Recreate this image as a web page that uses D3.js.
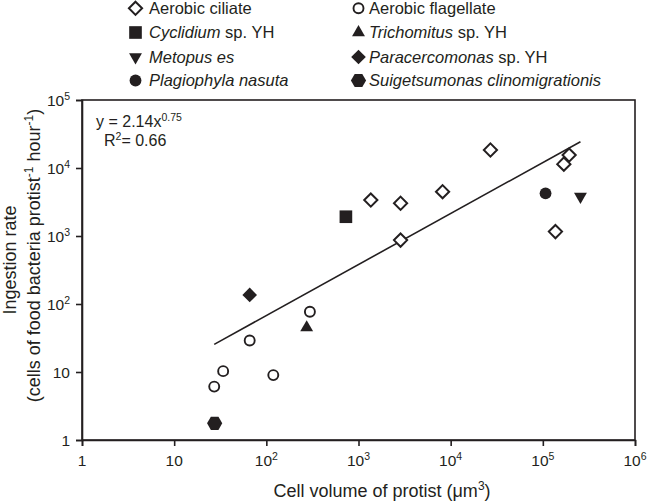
<!DOCTYPE html>
<html>
<head>
<meta charset="utf-8">
<script src="https://cdn.jsdelivr.net/npm/d3@7"></script>
<style>
  html, body { margin: 0; padding: 0; background: #fff; }
  svg { display: block; }
  text { font-family: "Liberation Sans", Arial, Helvetica, sans-serif; fill: #231f20; }
</style>
</head>
<body>
<svg id="chart" width="647" height="504"></svg>
<script>
// ---- data ----
const ciliateX = [1360, 2860, 8170, 27000, 193000, 169000, 2860, 137000];
const ciliateY = [3380, 3030, 4480, 18400, 15500, 11400, 870, 1160];
const flagellateX = [297, 66, 34, 27.2, 119];
const flagellateY = [77, 29, 10.3, 6.1, 9.0];
const cyclidiumX = [730];
const cyclidiumY = [1920];
const trichomitusX = [274];
const trichomitusY = [45];
const metopusX = [256000];
const metopusY = [3810];
const paracercomonasX = [66];
const paracercomonasY = [136];
const plagiophylaX = [107000];
const plagiophylaY = [4245];
const suigetsumonasX = [27.5];
const suigetsumonasY = [1.76];
// power-law fit shown on the chart: y = 2.14 x^0.75, drawn over the data's x-range
const fitA = 2.14, fitB = 0.75;
const fitXRange = [27.2, 256000];
const xTickValues = [1, 10, 100, 1e3, 1e4, 1e5, 1e6];
const xTickLabels = [["1", ""], ["10", ""], ["10", "2"], ["10", "3"], ["10", "4"], ["10", "5"], ["10", "6"]];
const yTickValues = [1, 10, 100, 1e3, 1e4, 1e5];
const yTickLabels = [["1", ""], ["10", ""], ["10", "2"], ["10", "3"], ["10", "4"], ["10", "5"]];

const svg = d3.select("#chart");
const ink = "#231f20";

const x = d3.scaleLog().domain([1, 1e6]).range([82, 635]);
const y = d3.scaleLog().domain([1, 1e5]).range([440, 100]);

// ---- marker shapes ----
function diamondPath(h) { return `M0,${-h}L${h},0L0,${h}L${-h},0Z`; }
function hexPath(r) {
  const pts = d3.range(6).map(i => { const a = i * Math.PI / 3; return [r * Math.cos(a), r * Math.sin(a)]; });
  return "M" + pts.map(p => p.join(",")).join("L") + "Z";
}
const markers = {
  ciliate: g => g.append("path").attr("d", diamondPath(6.6)).attr("fill", "#fff").attr("stroke", ink).attr("stroke-width", 2),
  flagellate: g => g.append("circle").attr("r", 5).attr("fill", "#fff").attr("stroke", ink).attr("stroke-width", 1.9),
  cyclidium: g => g.append("path").attr("d", d3.symbol(d3.symbolSquare, 160)()).attr("fill", ink),
  trichomitus: g => g.append("path").attr("d", d3.symbol(d3.symbolTriangle, 72)()).attr("fill", ink),
  metopus: g => g.append("path").attr("d", d3.symbol(d3.symbolTriangle, 72)()).attr("transform", "rotate(180)").attr("fill", ink),
  paracercomonas: g => g.append("path").attr("d", diamondPath(7.3)).attr("fill", ink),
  plagiophyla: g => g.append("circle").attr("r", 5.9).attr("fill", ink),
  suigetsumonas: g => g.append("path").attr("d", hexPath(7.6)).attr("fill", ink)
};

// ---- frame ----
svg.append("rect").attr("x", 82).attr("y", 100).attr("width", 635 - 82).attr("height", 340)
  .attr("fill", "none").attr("stroke", ink).attr("stroke-width", 1.6);

// ---- axes ----
const xAxis = svg.append("g").attr("transform", "translate(0,440)")
  .call(d3.axisBottom(x).tickValues(xTickValues).tickSize(6).tickFormat(""));
const yAxis = svg.append("g").attr("transform", "translate(82,0)")
  .call(d3.axisLeft(y).tickValues(yTickValues).tickSize(6).tickFormat(""));
[xAxis, yAxis].forEach(a => {
  a.select(".domain").attr("stroke", ink).attr("stroke-width", 1.6);
  a.selectAll(".tick line").attr("stroke", ink).attr("stroke-width", 1.6);
});

function supLabel(sel, parts) {
  sel.append("tspan").text(parts[0]);
  if (parts[1]) sel.append("tspan").attr("font-size", 10.5).attr("dy", -6).text(parts[1]);
}
xTickValues.forEach((v, i) => {
  const t = svg.append("text").attr("x", x(v)).attr("y", 466).attr("font-size", 15.5).attr("text-anchor", "middle");
  supLabel(t, xTickLabels[i]);
});
yTickValues.forEach((v, i) => {
  const t = svg.append("text").attr("x", 70).attr("y", y(v) + 5.5).attr("font-size", 15.5).attr("text-anchor", "end");
  supLabel(t, yTickLabels[i]);
});

// ---- axis titles ----
const xt = svg.append("text").attr("x", 382).attr("y", 497).attr("font-size", 18).attr("text-anchor", "middle");
xt.append("tspan").text("Cell volume of protist (μm");
xt.append("tspan").attr("font-size", 12).attr("dy", -7).text("3");
xt.append("tspan").attr("dy", 7).text(")");

const yt1 = svg.append("text").attr("transform", "translate(15.5,260) rotate(-90)").attr("font-size", 18).attr("text-anchor", "middle");
yt1.text("Ingestion rate");
const yt2 = svg.append("text").attr("transform", "translate(39.5,255.5) rotate(-90)").attr("font-size", 18).attr("text-anchor", "middle");
yt2.append("tspan").text("(cells of food bacteria protist");
yt2.append("tspan").attr("font-size", 12).attr("dy", -7).text("-1");
yt2.append("tspan").attr("dy", 7).text(" hour");
yt2.append("tspan").attr("font-size", 12).attr("dy", -7).text("-1");
yt2.append("tspan").attr("dy", 7).text(")");

// ---- equation ----
const eq1 = svg.append("text").attr("x", 96).attr("y", 127).attr("font-size", 16);
eq1.append("tspan").text("y = 2.14x");
eq1.append("tspan").attr("font-size", 10.5).attr("dy", -6.5).text("0.75");
const eq2 = svg.append("text").attr("x", 104).attr("y", 146).attr("font-size", 16);
eq2.append("tspan").text("R");
eq2.append("tspan").attr("font-size", 10.5).attr("dy", -6.5).text("2");
eq2.append("tspan").attr("dy", 6.5).text("= 0.66");

// ---- fit line ----
const fitPts = fitXRange.map(v => [x(v), y(fitA * Math.pow(v, fitB))]);
svg.append("path").attr("d", d3.line()(fitPts)).attr("stroke", ink).attr("stroke-width", 1.6).attr("fill", "none");

// ---- points ----
const groups = [
  ["ciliate", ciliateX, ciliateY],
  ["flagellate", flagellateX, flagellateY],
  ["cyclidium", cyclidiumX, cyclidiumY],
  ["trichomitus", trichomitusX, trichomitusY],
  ["metopus", metopusX, metopusY],
  ["paracercomonas", paracercomonasX, paracercomonasY],
  ["plagiophyla", plagiophylaX, plagiophylaY],
  ["suigetsumonas", suigetsumonasX, suigetsumonasY]
];
groups.forEach(([key, xs, ys]) => {
  xs.forEach((v, i) => {
    const g = svg.append("g").attr("transform", `translate(${x(v)},${y(ys[i])})`);
    markers[key](g);
  });
});

// ---- legend ----
const legendItems = [
  { key: "ciliate", col: 0, row: 0, parts: [["Aerobic ciliate", false]] },
  { key: "cyclidium", col: 0, row: 1, parts: [["Cyclidium", true], [" sp. YH", false]] },
  { key: "metopus", col: 0, row: 2, parts: [["Metopus es", true]] },
  { key: "plagiophyla", col: 0, row: 3, parts: [["Plagiophyla nasuta", true]] },
  { key: "flagellate", col: 1, row: 0, parts: [["Aerobic flagellate", false]] },
  { key: "trichomitus", col: 1, row: 1, parts: [["Trichomitus", true], [" sp. YH", false]] },
  { key: "paracercomonas", col: 1, row: 2, parts: [["Paracercomonas", true], [" sp. YH", false]] },
  { key: "suigetsumonas", col: 1, row: 3, parts: [["Suigetsumonas clinomigrationis", true]] }
];
const colMarkerX = [135.5, 358.5], colTextX = [149, 369];
const rowY = [8.3, 32.5, 57, 80.5];
legendItems.forEach(it => {
  const g = svg.append("g").attr("transform", `translate(${colMarkerX[it.col]},${rowY[it.row]})`);
  markers[it.key](g);
  const t = svg.append("text").attr("x", colTextX[it.col]).attr("y", rowY[it.row] + 5.8).attr("font-size", 16.5);
  it.parts.forEach(([s, ital]) => t.append("tspan").attr("font-style", ital ? "italic" : "normal").text(s));
});
</script>
</body>
</html>
